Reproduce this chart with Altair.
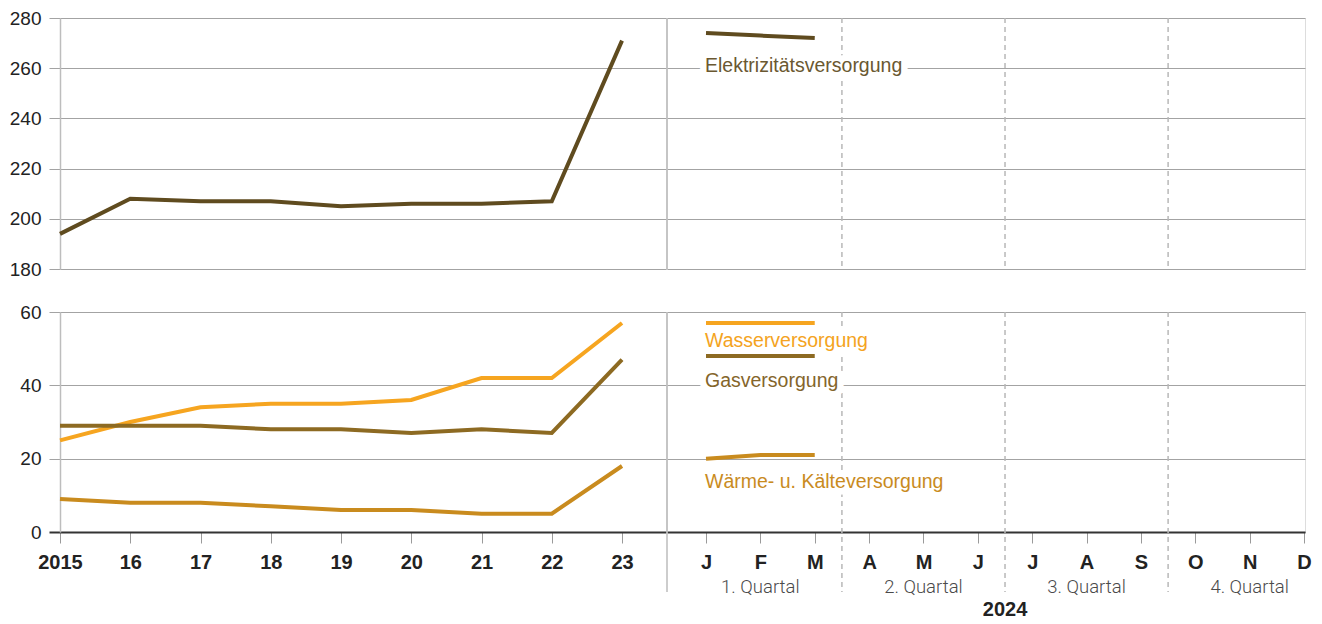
import json
import altair as alt
import pandas as pd

# ---------------- data ----------------
years = [2015, 2016, 2017, 2018, 2019, 2020, 2021, 2022, 2023]
year_labels = ["2015", "16", "17", "18", "19", "20", "21", "22", "23"]
months_2024 = [1, 2, 3]
month_ticks = [1, 2, 3, 4, 5, 6, 7, 8, 9, 10, 11, 12]
month_labels = ["J", "F", "M", "A", "M", "J", "J", "A", "S", "O", "N", "D"]
quarter_mid = [2, 5, 8, 11]
quarter_labels = ["1. Quartal", "2. Quartal", "3. Quartal", "4. Quartal"]
quarter_bounds = [3.5, 6.5, 9.5]
year_title = "2024"

series = ["Elektrizitätsversorgung", "Wasserversorgung", "Gasversorgung",
          "Wärme- u. Kälteversorgung"]
elek_years = [194, 208, 207, 207, 205, 206, 206, 207, 271]
elek_2024 = [274, 273, 272]
wasser_years = [25, 30, 34, 35, 35, 36, 42, 42, 57]
wasser_2024 = [57, 57, 57]
gas_years = [29, 29, 29, 28, 28, 27, 28, 27, 47]
gas_2024 = [48, 48, 48]
waerme_years = [9, 8, 8, 7, 6, 6, 5, 5, 18]
waerme_2024 = [20, 21, 21]

top_ticks = [180, 200, 220, 240, 260, 280]
bot_ticks = [0, 20, 40, 60]

# ---------------- styling / layout ----------------
FONT = "Liberation Sans"
line_colors = ["#5f4b1f", "#f6a520", "#8d6a22", "#c98b1e"]
text_colors = ["#6a5831", "#f4a321", "#84652b", "#c98b1e"]
label_pos = {  # series label anchor value (placed at month J)
    "Elektrizitätsversorgung": 260.7,
    "Wasserversorgung": 52.1,
    "Gasversorgung": 41.2,
    "Wärme- u. Kälteversorgung": 13.6,
}
W_L, W_R, H_T, H_B = 606, 638, 251, 220
GRID = "#a3a3a3"
X_MIN_M = 0.2825
LBL_SIZE = 19.5

X_YEARS = alt.Scale(domain=[2015, 2023.626], nice=False, zero=False)
X_MONTHS = alt.Scale(domain=[X_MIN_M, 12.018], nice=False, zero=False)
Y_TOP = alt.Scale(domain=[180, 280], nice=False, zero=False)
Y_BOT = alt.Scale(domain=[0, 60], nice=False, zero=False)
COLOR = alt.Scale(domain=series, range=line_colors)
TCOLOR = alt.Scale(domain=series, range=text_colors)


def frame(xs, name, vals, xname):
    return pd.DataFrame({xname: xs, "value": vals, "series": name})


df_top_y = frame(years, series[0], elek_years, "year")
df_top_m = frame(months_2024, series[0], elek_2024, "month")
df_bot_y = pd.concat([frame(years, series[1], wasser_years, "year"),
                      frame(years, series[2], gas_years, "year"),
                      frame(years, series[3], waerme_years, "year")])
df_bot_m = pd.concat([frame(months_2024, series[1], wasser_2024, "month"),
                      frame(months_2024, series[2], gas_2024, "month"),
                      frame(months_2024, series[3], waerme_2024, "month")])
df_lab_top = pd.DataFrame({"month": [1], "series": [series[0]],
                           "value": [label_pos[series[0]]]})
df_lab_bot = pd.DataFrame({"month": [1, 1, 1], "series": series[1:],
                           "value": [label_pos[s] for s in series[1:]]})
df_edge = pd.DataFrame({"month": [X_MIN_M]})
df_qb = pd.DataFrame({"month": quarter_bounds})
df_q = pd.DataFrame({"month": quarter_mid, "label": quarter_labels})
df_year = pd.DataFrame({"month": [6.5], "label": [year_title]})


def y_axis_left(vals):
    return alt.Axis(values=vals, grid=True, gridColor=GRID, gridWidth=1,
                    tickColor={"condition": {"test": "datum.value === 0",
                                             "value": "#333333"},
                               "value": GRID},
                    tickWidth={"condition": {"test": "datum.value === 0",
                                             "value": 2},
                               "value": 1},
                    tickSize=11, domainColor="#bdbdbd",
                    domainWidth=1.5, labelFont=FONT, labelFontSize=19,
                    labelColor="#222222", labelPadding=8, title=None)


def y_axis_right(vals):
    return alt.Axis(values=vals, grid=True, gridColor=GRID, gridWidth=1,
                    labels=False, ticks=False, domain=False, title=None,
                    minExtent=0, maxExtent=0)


x_axis_years = alt.Axis(
    values=years, labelExpr=json.dumps(year_labels) + "[datum.value - 2015]",
    tickSize=11, tickColor="#9a9a9a", domainColor="#333333", domainWidth=2,
    labelFont=FONT, labelFontWeight="bold", labelFontSize=20, labelFlush=False,
    labelColor="#222222", labelPadding=9, title=None, grid=False)
x_axis_months = alt.Axis(
    values=month_ticks, labelExpr=json.dumps(month_labels) + "[datum.value - 1]",
    tickSize=11, tickColor="#9a9a9a", domainColor="#333333", domainWidth=2,
    labelFont=FONT, labelFontWeight="bold", labelFontSize=20, labelFlush=False,
    labelColor="#222222", labelPadding=9, title=None, grid=False)

# ---------------- top-left ----------------
tl = alt.Chart(df_top_y).mark_line(strokeWidth=4).encode(
    x=alt.X("year:Q", scale=X_YEARS, axis=None),
    y=alt.Y("value:Q", scale=Y_TOP, axis=y_axis_left(top_ticks)),
    color=alt.Color("series:N", scale=COLOR, legend=None),
).properties(width=W_L, height=H_T)

# ---------------- top-right ----------------
xm_top = alt.X("month:Q", scale=X_MONTHS, axis=None)
ym_top = alt.Y("value:Q", scale=Y_TOP, axis=y_axis_right(top_ticks))
tr_edge = alt.Chart(df_edge).mark_rule(color="#bdbdbd", strokeWidth=1.5).encode(x=xm_top)
tr_qb = alt.Chart(df_qb).mark_rule(color="#b8b8b8", strokeWidth=1.5,
                                   strokeDash=[5, 4]).encode(x=xm_top)
tr_halo = alt.Chart(df_lab_top).mark_text(
    align="left", baseline="middle", font=FONT, fontSize=LBL_SIZE, dx=-1,
    fill="white", stroke="white", strokeWidth=13, strokeJoin="round",
).encode(x=xm_top, y=ym_top, text="series:N")
tr_line = alt.Chart(df_top_m).mark_line(strokeWidth=4).encode(
    x=xm_top, y=ym_top, color=alt.Color("series:N", scale=COLOR, legend=None))
tr_text = alt.Chart(df_lab_top).mark_text(
    align="left", baseline="middle", font=FONT, fontSize=LBL_SIZE, dx=-1,
).encode(x=xm_top, y=ym_top, text="series:N",
         color=alt.Color("series:N", scale=TCOLOR, legend=None))
tr = alt.layer(tr_edge, tr_qb, tr_halo, tr_line, tr_text).resolve_scale(
    color="independent").properties(width=W_R, height=H_T)

# ---------------- bottom-left ----------------
bl = alt.Chart(df_bot_y).mark_line(strokeWidth=4).encode(
    x=alt.X("year:Q", scale=X_YEARS, axis=x_axis_years),
    y=alt.Y("value:Q", scale=Y_BOT, axis=y_axis_left(bot_ticks)),
    color=alt.Color("series:N", scale=COLOR, legend=None),
).properties(width=W_L, height=H_B)

# ---------------- bottom-right ----------------
xm_bot = alt.X("month:Q", scale=X_MONTHS, axis=x_axis_months)
ym_bot = alt.Y("value:Q", scale=Y_BOT, axis=y_axis_right(bot_ticks))
br_edge = alt.Chart(df_edge).mark_rule(color="#bdbdbd", strokeWidth=1.5).encode(
    x=xm_bot, y=alt.value(0), y2=alt.value(H_B + 60))
br_qb = alt.Chart(df_qb).mark_rule(color="#b8b8b8", strokeWidth=1.5,
                                   strokeDash=[5, 4]).encode(
    x=xm_bot, y=alt.value(0), y2=alt.value(H_B + 60))
br_q = alt.Chart(df_q).mark_text(
    font="Roboto", fontWeight=300, fontSize=18.5, color="#4a4a4a",
    baseline="middle", align="center").encode(
    x=xm_bot, y=alt.value(H_B + 55), text="label:N")
br_year = alt.Chart(df_year).mark_text(
    font=FONT, fontWeight="bold", fontSize=20, color="#222222",
    baseline="middle", align="center").encode(
    x=xm_bot, y=alt.value(H_B + 78), text="label:N")
br_halo = alt.Chart(df_lab_bot).mark_text(
    align="left", baseline="middle", font=FONT, fontSize=LBL_SIZE, dx=-1,
    fill="white", stroke="white", strokeWidth=13, strokeJoin="round",
).encode(x=xm_bot, y=ym_bot, text="series:N")
br_line = alt.Chart(df_bot_m).mark_line(strokeWidth=4).encode(
    x=xm_bot, y=ym_bot, color=alt.Color("series:N", scale=COLOR, legend=None))
br_text = alt.Chart(df_lab_bot).mark_text(
    align="left", baseline="middle", font=FONT, fontSize=LBL_SIZE, dx=-1,
).encode(x=xm_bot, y=ym_bot, text="series:N",
         color=alt.Color("series:N", scale=TCOLOR, legend=None))
br = alt.layer(br_edge, br_qb, br_q, br_year, br_halo, br_line, br_text).resolve_scale(
    color="independent").properties(width=W_R, height=H_B)

chart = alt.concat(tl, tr, bl, br, columns=2, spacing={"row": 22, "column": -3},
                   align="each").properties(padding=0).configure_view(
    stroke=None).configure(background="white")

chart.save("out.html", embed_options={"renderer": "svg", "actions": False})
